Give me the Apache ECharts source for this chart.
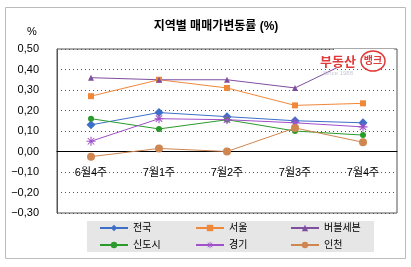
<!DOCTYPE html>
<html>
<head>
<meta charset="utf-8">
<script src="https://cdn.jsdelivr.net/npm/echarts@6/dist/echarts.min.js"></script>
<style>
  html, body { margin: 0; padding: 0; background: #fff; }
  #chart { width: 411px; height: 267px; }
</style>
</head>
<body>
<div id="chart"></div>
<script>
// 주차
var weeks = ["6월4주", "7월1주", "7월2주", "7월3주", "7월4주"];
// 지역별 매매가 변동률 (%)
var jeonguk = [0.13, 0.19, 0.17, 0.15, 0.14];
var seoul = [0.27, 0.35, 0.31, 0.225, 0.235];
var bubble7 = [0.36, 0.35, 0.35, 0.31, 0.47];
var sindosi = [0.16, 0.11, 0.155, 0.10, 0.08];
var gyeonggi = [0.05, 0.16, 0.155, 0.14, 0.12];
var incheon = [-0.025, 0.015, 0.0, 0.115, 0.045];

var font = "'Liberation Sans', 'Noto Sans CJK KR', sans-serif";
// 별표(*) 마커
var star = "path://M0,4.4L10,4.4L10,5.6L0,5.6Z M4.4,0L5.6,0L5.6,10L4.4,10Z" +
  " M1,1.8L1.8,1L9,8.2L8.2,9Z M8.2,1L9,1.8L1.8,9L1,8.2Z";

function line(name, data, color, symbol, size) {
  return {
    name: name,
    type: "line",
    data: data,
    symbol: symbol,
    symbolSize: size,
    showAllSymbol: true,
    lineStyle: { color: color, width: 1 },
    itemStyle: { color: color },
    z: 3
  };
}

function legendItem(name, left, top) {
  return {
    data: [name],
    left: left,
    top: top,
    padding: 0,
    itemWidth: 28,
    itemHeight: 8,
    textStyle: { fontFamily: font, fontSize: 10, color: "#000" }
  };
}

var chart = echarts.init(document.getElementById("chart"));
chart.setOption({
  animation: false,
  backgroundColor: "#fff",
  textStyle: { fontFamily: font },
  grid: {
    left: 57, top: 49, width: 340, height: 164,
    show: true, borderColor: "#555", borderWidth: 1
  },
  legend: [
    legendItem("전국", 99, 223),
    legendItem("서울", 195, 223),
    legendItem("버블세븐", 290, 223),
    legendItem("신도시", 99, 240),
    legendItem("경기", 195, 240),
    legendItem("인천", 290, 240)
  ],
  xAxis: [{
    type: "category",
    data: weeks,
    axisLine: { onZero: true, lineStyle: { color: "#000", width: 1 } },
    axisTick: { inside: true, length: 4, lineStyle: { color: "#000" } },
    axisLabel: { show: false },
    splitLine: { show: false }
  }, {
    // 0선 아래 라벨
    type: "category",
    data: weeks,
    position: "bottom",
    offset: -62,
    axisLine: { show: false, onZero: false },
    axisTick: { show: false },
    axisLabel: { fontSize: 11, color: "#000", margin: 16, fontFamily: font },
    splitLine: { show: false }
  }],
  yAxis: {
    type: "value",
    min: -0.3,
    max: 0.5,
    interval: 0.1,
    axisLine: { show: true, lineStyle: { color: "#555" } },
    axisTick: { show: false },
    axisLabel: {
      fontSize: 11, color: "#000", margin: 18, fontFamily: font,
      formatter: function (v) { return v.toFixed(2).replace(".", ",").replace("-", "−"); }
    },
    splitLine: { show: true, lineStyle: { color: "#555", type: [1, 3], width: 1 } }
  },
  series: [
    line("전국", jeonguk, "#3d6fc8", "diamond", 9),
    line("서울", seoul, "#f0883a", "rect", 6),
    line("버블세븐", bubble7, "#7f4f9f", "triangle", 6),
    line("신도시", sindosi, "#2a9a2a", "circle", 6),
    line("경기", gyeonggi, "#a050c8", star, 9),
    line("인천", incheon, "#d08650", "circle", 8)
  ],
  graphic: [
    { type: "rect", shape: { x: 5.5, y: 7.5, width: 400, height: 251 }, style: { fill: null, stroke: "#bbb", lineWidth: 1 }, z: -10 },
    { type: "rect", shape: { x: 87, y: 221, width: 287, height: 31 }, style: { fill: "#e6e6e6" }, z: -5 },
    { type: "text", x: 216, y: 27, style: { text: "지역별 매매가변동률 (%)", fontFamily: font, fontSize: 12, fontWeight: "bold", fill: "#000", align: "center", verticalAlign: "middle" } },
    { type: "text", x: 32, y: 32, style: { text: "%", fontFamily: font, fontSize: 11, fill: "#000", align: "center", verticalAlign: "middle" } },
    // 워터마크
    { type: "rect", shape: { x: 334, y: 49, width: 60, height: 19 }, style: { fill: "#fff" }, z: 100 },
    { type: "text", x: 338, y: 62, z: 101, style: { text: "부동산", fontFamily: font, fontSize: 13, fontWeight: "bold", fill: "#e03a3a", align: "center", verticalAlign: "middle" } },
    { type: "ellipse", shape: { cx: 373, cy: 61, rx: 12, ry: 10 }, style: { fill: "#fff", stroke: "#e03a3a", lineWidth: 1.5 }, z: 101 },
    { type: "text", x: 373, y: 61, z: 102, style: { text: "뱅크", fontFamily: font, fontSize: 10, fontWeight: "bold", fill: "#e03a3a", align: "center", verticalAlign: "middle" } },
    { type: "text", x: 338, y: 73, z: 101, style: { text: "Since 1988", fontFamily: font, fontSize: 6, fill: "#c8c8d8", align: "center", verticalAlign: "middle" } }
  ]
});
</script>
</body>
</html>
